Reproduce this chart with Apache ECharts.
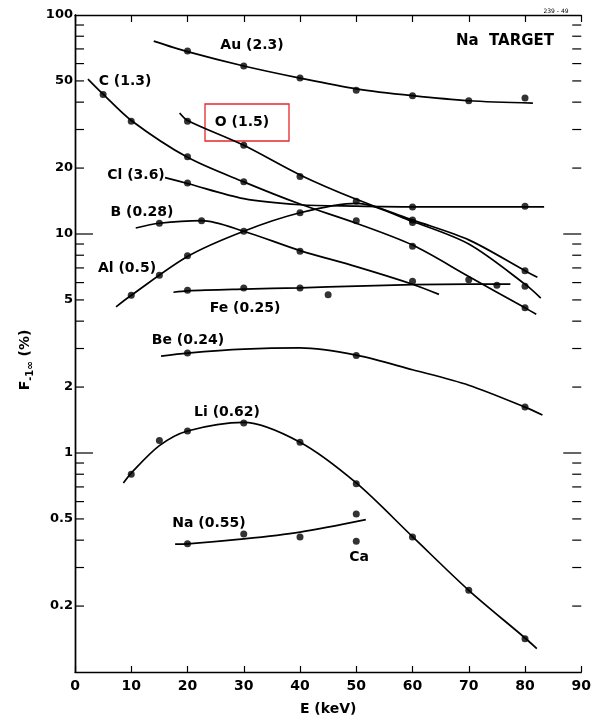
<!DOCTYPE html>
<html><head><meta charset="utf-8">
<script src="https://cdn.jsdelivr.net/npm/echarts@6/dist/echarts.min.js"></script>
<style>html,body{margin:0;padding:0;background:#fff}#c{width:594px;height:723px}</style>
</head><body><div id="c"></div>
<script>
// ---------- data ----------
const xMin = 0, xMax = 90, xStep = 10;
const yMin = 0.1, yMax = 100;
const yTickLabels = [100, 50, 20, 10, 5, 2, 1, 0.5, 0.2];
const yLongTicks = [1, 10];
const yShortTicks = [0.2,0.3,0.4,0.5,0.6,0.7,0.8,0.9, 2,3,4,5,6,7,8,9, 20,30,40,50,60,70,80,90];

const auPoints = [[20,68.5],[30,58.5],[40,51.6],[50,45.3],[60,42.8],[70,40.6],[80,41.8]];
const auCurve  = [[14,76],[20,68],[30,58.5],[40,51.5],[50,46],[60,42.8],[70,40.6],[81.4,39.6]];

const cPoints = [[5,43.3],[10,32.7],[20,22.5],[30,17.3],[50,11.5],[60,8.8],[80,4.6]];
const cCurve  = [[2.3,51],[5,43.5],[10,33],[20,22.4],[30,17.3],[40,13.7],[50,11.2],[60,8.9],[70,6.4],[80,4.6],[82,4.3]];

const oPoints = [[20,32.7],[30,25.4],[40,18.3],[50,14.1],[60,11.6],[80,6.8]];
const oCurve  = [[18.6,35.7],[20,33],[30,25.4],[40,18.6],[50,14.4],[60,11.6],[70,9.4],[80,6.8],[82.2,6.35]];

const clPoints = [[20,17.1],[60,13.3],[80,13.4]];
const clCurve  = [[16,18.1],[20,17.0],[30,14.5],[40,13.6],[50,13.4],[60,13.3],[70,13.3],[83.4,13.3]];

const bPoints = [[15,11.2],[22.5,11.5],[40,8.34],[60,6.08]];
const bCurve  = [[10.8,10.65],[15,11.2],[22.5,11.5],[30,10.3],[40,8.4],[50,7.1],[60,5.9],[64.7,5.3]];

const alPoints = [[10,5.25],[15,6.48],[20,7.96],[30,10.3],[40,12.5],[60,11.3],[80,5.77]];
const alCurve  = [[7.3,4.65],[10,5.25],[20,7.9],[30,10.3],[40,12.5],[50,13.8],[60,11.4],[70,9.0],[80,5.9],[82.8,5.1]];

const fePoints = [[20,5.53],[30,5.67],[40,5.67],[45,5.28],[70,6.18],[75,5.83]];
const feCurve  = [[17.5,5.42],[20,5.5],[30,5.6],[40,5.68],[50,5.78],[60,5.87],[70,5.9],[77.4,5.9]];

const bePoints = [[20,2.86],[50,2.79],[80,1.62]];
const beCurve  = [[15.3,2.77],[20,2.86],[30,2.98],[40,3.02],[50,2.8],[60,2.4],[70,2.04],[80,1.62],[83.1,1.49]];

const liPoints = [[10,0.80],[15,1.14],[20,1.26],[30,1.37],[40,1.12],[50,0.724],[60,0.413],[70,0.236],[80,0.142]];
const liCurve  = [[8.6,0.73],[10,0.81],[15,1.08],[20,1.26],[30,1.38],[40,1.12],[50,0.73],[60,0.415],[70,0.236],[80,0.143],[82.1,0.128]];

const naPoints = [[20,0.385],[30,0.427],[40,0.413],[50,0.526]];
const naCurve  = [[17.8,0.384],[20,0.385],[30,0.405],[40,0.435],[51.7,0.496]];

const caPoints = [[50,0.395]];

const seriesNames = ['Au (2.3)','C (1.3)','O (1.5)','Cl (3.6)','B (0.28)','Al (0.5)','Fe (0.25)','Be (0.24)','Li (0.62)','Na (0.55)'];
const seriesPoints = [auPoints,cPoints,oPoints,clPoints,bPoints,alPoints,fePoints,bePoints,liPoints,naPoints];
const seriesCurves = [auCurve,cCurve,oCurve,clCurve,bCurve,alCurve,feCurve,beCurve,liCurve,naCurve];

// ---------- chart ----------
const FONT = 'DejaVu Sans';
const INK = '#000';
const chart = echarts.init(document.getElementById('c'), null, {renderer: 'canvas'});

const series = [];
seriesNames.forEach((n, i) => {
  series.push({
    name: n + ' curve', type: 'line', data: seriesCurves[i], smooth: 0.3,
    showSymbol: false, symbol: 'none', silent: true,
    lineStyle: {color: INK, width: 1.7}, z: 2
  });
  series.push({
    name: n, type: 'scatter', data: seriesPoints[i], symbol: 'circle', symbolSize: 7,
    itemStyle: {color: INK}, silent: true, z: 3
  });
});
series.push({name: 'Ca', type: 'scatter', data: caPoints, symbolSize: 7, itemStyle: {color: INK}, silent: true, z: 3});

const option = {
  animation: false,
  backgroundColor: '#fff',
  grid: {left: 75, right: 9, top: 15, bottom: 51, containLabel: false},
  xAxis: [{
    type: 'value', min: xMin, max: xMax, interval: xStep, position: 'bottom',
    name: 'E (keV)', nameLocation: 'middle', nameGap: 30,
    nameTextStyle: {fontFamily: FONT, fontSize: 14, fontWeight: 'bold', color: INK},
    axisLine: {lineStyle: {color: INK, width: 1.4}},
    axisTick: {inside: true, length: 6, lineStyle: {color: INK, width: 1.2}},
    axisLabel: {fontFamily: FONT, fontSize: 14, fontWeight: 'bold', color: INK, margin: 7},
    splitLine: {show: false}
  }, {
    type: 'value', min: xMin, max: xMax, interval: xStep, position: 'top',
    axisLine: {lineStyle: {color: INK, width: 1.4}},
    axisTick: {inside: true, length: 7, lineStyle: {color: INK, width: 1.2}},
    axisLabel: {show: false}, splitLine: {show: false}
  }],
  yAxis: [{
    type: 'log', logBase: 10, min: yMin, max: yMax, position: 'left',
    axisLine: {show: true, lineStyle: {color: INK, width: 1.4}},
    axisTick: {show: false}, axisLabel: {show: false}, splitLine: {show: false}, minorTick: {show: false}
  }, {
    type: 'log', logBase: 10, min: yMin, max: yMax, position: 'right',
    axisLine: {show: true, lineStyle: {color: INK, width: 1.4}},
    axisTick: {show: false}, axisLabel: {show: false}, splitLine: {show: false}
  }],
  series: series
};
chart.setOption(option);

// ---------- ticks, labels, annotations ----------
const xL = chart.convertToPixel({xAxisIndex: 0}, xMin);
const xR = chart.convertToPixel({xAxisIndex: 0}, xMax);
const yp = v => chart.convertToPixel({yAxisIndex: 0}, v);
const g = [];
function tick(v, len) {
  const y = yp(v);
  g.push({type: 'line', silent: true, shape: {x1: xL, y1: y, x2: xL + len, y2: y}, style: {stroke: INK, lineWidth: 1.2}});
  g.push({type: 'line', silent: true, shape: {x1: xR, y1: y, x2: xR - len, y2: y}, style: {stroke: INK, lineWidth: 1.2}});
}
yShortTicks.forEach(v => tick(v, 9));
yLongTicks.forEach(v => tick(v, 18));
yTickLabels.forEach(v => {
  g.push({type: 'text', silent: true, x: xL - 2, y: yp(v),
    style: {text: String(v), align: 'right', verticalAlign: 'middle', fontFamily: FONT, fontSize: 13, fontWeight: 'bold', fill: INK}});
});

const labelPos = [[252,45],[125,81],[242,122],[136,175],[142,212],[127,268],[245,308],[188,340],[227,412],[209,523]];
seriesNames.forEach((n, i) => {
  g.push({type: 'text', silent: true, x: labelPos[i][0], y: labelPos[i][1],
    style: {text: n, align: 'center', verticalAlign: 'middle', fontFamily: FONT, fontSize: 14, fontWeight: 'bold', fill: INK}});
});
g.push({type: 'text', silent: true, x: 359, y: 557,
  style: {text: 'Ca', align: 'center', verticalAlign: 'middle', fontFamily: FONT, fontSize: 14, fontWeight: 'bold', fill: INK}});
g.push({type: 'text', silent: true, x: 505, y: 41,
  style: {text: 'Na  TARGET', align: 'center', verticalAlign: 'middle', fontFamily: FONT, fontSize: 15, fontWeight: 'bold', fill: INK}});
g.push({type: 'text', silent: true, x: 556, y: 11,
  style: {text: '239 - 49', align: 'center', verticalAlign: 'middle', fontFamily: FONT, fontSize: 6, fill: INK}});
g.push({type: 'rect', silent: true, shape: {x: 205, y: 104, width: 84, height: 37},
  style: {fill: 'none', stroke: '#e8262b', lineWidth: 1.3}});
g.push({type: 'text', silent: true, x: 26, y: 360, rotation: Math.PI / 2,
  style: {text: '{a|F}{b|-1∞}{a| (%)}', align: 'center', verticalAlign: 'middle', fill: INK,
    rich: {
      a: {fontFamily: FONT, fontSize: 14, fontWeight: 'bold', fill: INK, lineHeight: 16, verticalAlign: 'top'},
      b: {fontFamily: FONT, fontSize: 10, fontWeight: 'bold', fill: INK, lineHeight: 12, verticalAlign: 'top', padding: [7, 0, 0, 0]}
    }}});
chart.setOption({graphic: g});
</script>
</body></html>
